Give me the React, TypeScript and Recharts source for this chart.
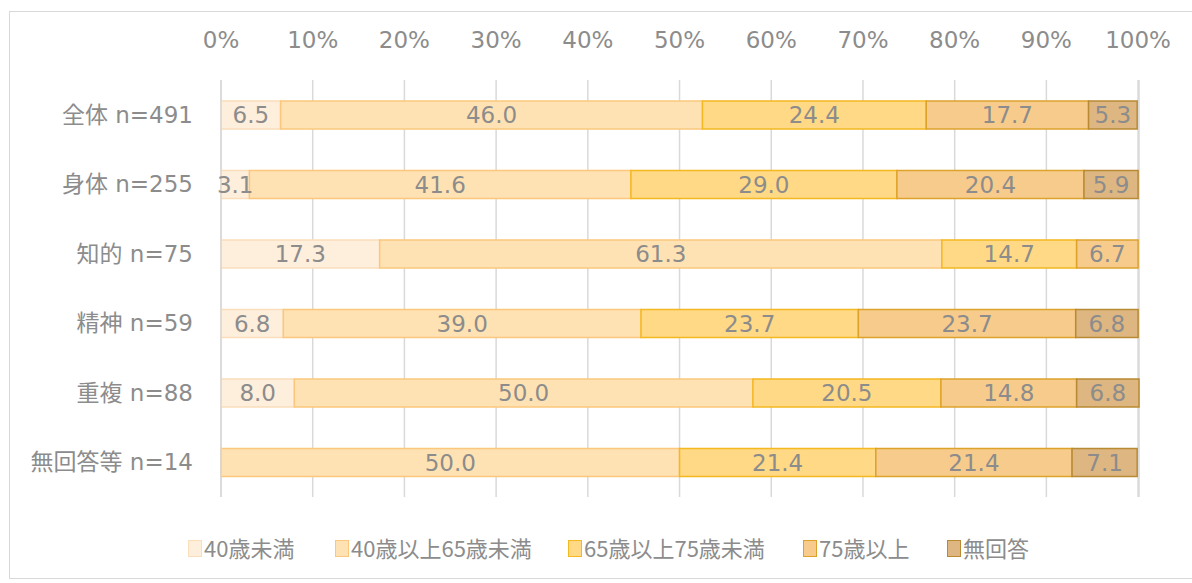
import { BarChart, Bar, XAxis, YAxis, CartesianGrid, LabelList } from "recharts";

const categories = ["全体 n=491", "身体 n=255", "知的 n=75", "精神 n=59", "重複 n=88", "無回答等 n=14"];
const under40 = [6.5, 3.1, 17.3, 6.8, 8.0, 0];
const from40to65 = [46.0, 41.6, 61.3, 39.0, 50.0, 50.0];
const from65to75 = [24.4, 29.0, 14.7, 23.7, 20.5, 21.4];
const over75 = [17.7, 20.4, 6.7, 23.7, 14.8, 21.4];
const noAnswer = [5.3, 5.9, 0, 6.8, 6.8, 7.1];
const ticks = [0, 10, 20, 30, 40, 50, 60, 70, 80, 90, 100];

const series = [
  { key: "a", label: "40歳未満", values: under40, fill: "#FEEEDC", stroke: "#FADDBB" },
  { key: "b", label: "40歳以上65歳未満", values: from40to65, fill: "#FFE2B3", stroke: "#FAC77C" },
  { key: "c", label: "65歳以上75歳未満", values: from65to75, fill: "#FFD985", stroke: "#F4B821" },
  { key: "d", label: "75歳以上", values: over75, fill: "#F7CB8C", stroke: "#DDA22C" },
  { key: "e", label: "無回答", values: noAnswer, fill: "#DDB681", stroke: "#B98A33" },
];

const data = categories.map((name, i) => {
  const row: Record<string, string | number> = { name };
  series.forEach((s) => (row[s.key] = s.values[i]));
  return row;
});

const legendX = [188, 335, 568, 803, 947];
const GRAY = "#8c8c8c";
const LATIN = "'DejaVu Sans', 'Noto Sans CJK JP', sans-serif";

export default function App() {
  return (
    <div style={{ position: "absolute", left: 0, top: 0, width: 1192, height: 583, background: "#fff" }}>
      <div
        style={{
          position: "absolute",
          left: 9,
          top: 11,
          width: 1190,
          height: 568,
          border: "1.5px solid #d9d9d9",
          boxSizing: "border-box",
        }}
      />
      <div style={{ position: "absolute", left: 0, top: 0 }}>
        <BarChart
          width={1192}
          height={583}
          data={data}
          layout="vertical"
          margin={{ top: 50, right: 53, left: 0, bottom: 86 }}
          barSize={28}
        >
          <CartesianGrid horizontal={false} stroke="#d9d9d9" strokeWidth={1.5} />
          <XAxis
            type="number"
            orientation="top"
            domain={[0, 100]}
            ticks={ticks}
            tickFormatter={(v) => `${v}%`}
            axisLine={false}
            tickLine={false}
            height={30}
            tick={{ fontSize: 23, fill: GRAY, fontFamily: LATIN, dy: -24 }}
            interval={0}
          />
          <YAxis
            type="category"
            dataKey="name"
            width={221}
            axisLine={{ stroke: "#d9d9d9", strokeWidth: 1.5 }}
            tickLine={false}
            tickSize={0}
            tickMargin={28}
            tick={{ fontSize: 23, fill: GRAY, fontFamily: LATIN }}
          />
          {series.map((s) => (
            <Bar
              key={s.key}
              dataKey={s.key}
              stackId="s"
              fill={s.fill}
              stroke={s.stroke}
              strokeWidth={1.5}
              isAnimationActive={false}
            >
              <LabelList
                dataKey={s.key}
                position="center"
                formatter={(v: number) => (v ? v.toFixed(1) : "")}
                style={{ fontSize: 23, fill: GRAY, fontFamily: LATIN }}
              />
            </Bar>
          ))}
        </BarChart>
      </div>
      {series.map((s, i) => (
        <div
          key={s.key}
          style={{
            position: "absolute",
            left: legendX[i],
            top: 532,
            display: "flex",
            alignItems: "center",
            fontFamily: "'Noto Sans CJK JP', sans-serif",
            fontSize: 22,
            color: GRAY,
            whiteSpace: "nowrap",
            lineHeight: "30px",
          }}
        >
          <span
            style={{
              display: "inline-block",
              width: 12,
              height: 15,
              background: s.fill,
              border: `1.5px solid ${s.stroke}`,
              marginRight: 2,
              marginTop: 3,
            }}
          />
          {s.label}
        </div>
      ))}
    </div>
  );
}
